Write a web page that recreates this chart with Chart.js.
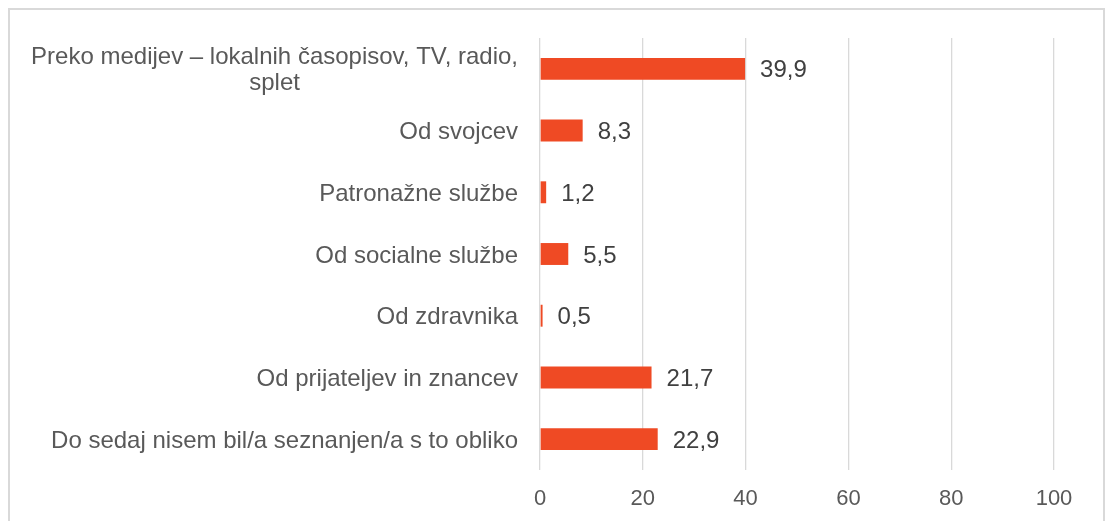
<!DOCTYPE html>
<html>
<head>
<meta charset="utf-8">
<script src="https://cdn.jsdelivr.net/npm/chart.js@4/dist/chart.umd.min.js"></script>
<style>
  html, body { margin: 0; padding: 0; background: #fff; overflow: hidden; }
  #frame { position: absolute; left: 8px; top: 8px; width: 1093px; height: 600px; border: 2px solid #d9d9d9; }
  #wrap { position: absolute; left: 0; top: 0; width: 1110px; height: 521px; }
</style>
</head>
<body>
<div id="frame"></div>
<div id="wrap"><canvas id="graph"></canvas></div>
<script>
// categories (top to bottom) and values in %
var categories = [
  ["Preko medijev – lokalnih časopisov, TV, radio,", "splet"],
  "Od svojcev",
  "Patronažne službe",
  "Od socialne službe",
  "Od zdravnika",
  "Od prijateljev in znancev",
  "Do sedaj nisem bil/a seznanjen/a s to obliko"
];
var values = [39.9, 8.3, 1.2, 5.5, 0.5, 21.7, 22.9];
var xTicks = [0, 20, 40, 60, 80, 100];

var FONT = "Liberation Sans, Arial, sans-serif";

// y labels, right aligned, wrapped one centered in its own block
var yLabels = {
  id: 'yLabels',
  afterDraw: function(chart) {
    var ctx = chart.ctx;
    var y = chart.scales.y;
    var right = chart.chartArea.left - 22;
    ctx.save();
    ctx.font = "24px " + FONT;
    ctx.fillStyle = "#595959";
    ctx.textBaseline = "middle";
    categories.forEach(function(lab, i) {
      var cy = y.getPixelForTick(i) + 2;
      if (Array.isArray(lab)) {
        var w = Math.max.apply(null, lab.map(function(s) { return ctx.measureText(s).width; }));
        var cx = right - w / 2;
        var lh = 26;
        ctx.textAlign = "center";
        lab.forEach(function(s, j) {
          ctx.fillText(s, cx, cy - (lab.length - 1) * lh / 2 + j * lh);
        });
      } else {
        ctx.textAlign = "right";
        ctx.fillText(lab, right, cy);
      }
    });
    ctx.restore();
  }
};

var valueLabels = {
  id: 'valueLabels',
  afterDatasetsDraw: function(chart) {
    var ctx = chart.ctx;
    var meta = chart.getDatasetMeta(0);
    ctx.save();
    ctx.font = "24px " + FONT;
    ctx.fillStyle = "#404040";
    ctx.textAlign = "left";
    ctx.textBaseline = "middle";
    meta.data.forEach(function(bar, i) {
      ctx.fillText(values[i].toFixed(1).replace('.', ','), bar.x + 15, bar.y + 2);
    });
    ctx.restore();
  }
};

new Chart("graph", {
  type: "bar",
  data: {
    labels: categories.map(function(c) { return Array.isArray(c) ? c.join(' ') : c; }),
    datasets: [{
      data: values,
      backgroundColor: "#EF4A24",
      categoryPercentage: 1,
      barPercentage: 0.355
    }]
  },
  options: {
    indexAxis: 'y',
    responsive: true,
    maintainAspectRatio: false,
    animation: false,
    layout: { padding: { left: 0, right: 56, top: 38, bottom: 0 } },
    plugins: {
      legend: { display: false },
      tooltip: { enabled: false }
    },
    scales: {
      x: {
        min: 0,
        max: 100,
        afterBuildTicks: function(scale) {
          scale.ticks = xTicks.map(function(v) { return { value: v }; });
        },
        afterFit: function(scale) { scale.height = 51; },
        grid: { color: "#d9d9d9", lineWidth: 1.3, drawTicks: false },
        border: { display: false },
        ticks: {
          padding: 16,
          color: "#595959",
          font: { family: FONT, size: 22 }
        }
      },
      y: {
        afterFit: function(scale) { scale.width = 540; },
        grid: { display: false },
        border: { display: false },
        ticks: { display: false }
      }
    }
  },
  plugins: [yLabels, valueLabels]
});
</script>
</body>
</html>
